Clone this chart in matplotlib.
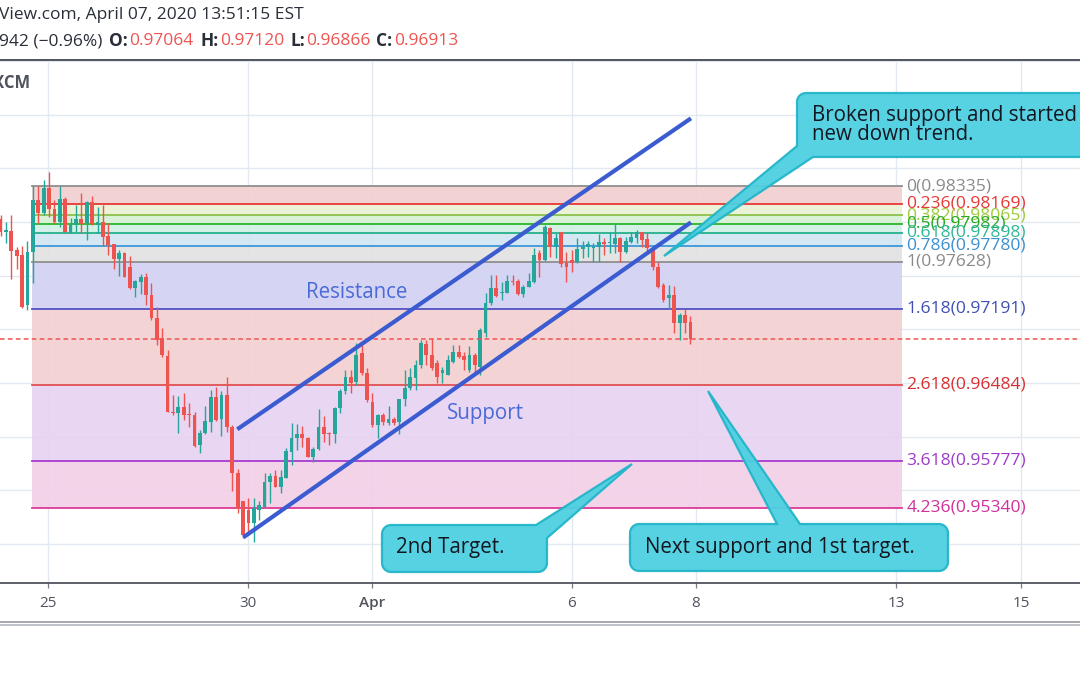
import numpy as np
import matplotlib
matplotlib.use("Agg")
import matplotlib.pyplot as plt
from matplotlib.patches import Polygon

plt.rcParams['font.family'] = ['Open Sans', 'DejaVu Sans']

# ---------------- data ----------------
opens = [.98028,.97907,.97916,.97739,.97693,.97227,.97721,.98205,.98084,.98317,
.98121,.98000,.98214,.97898,.97972,.98028,.97991,.98186,.97972,.98000,
.97870,.97795,.97655,.97711,.97581,.97385,.97441,.97488,.97320,.97106,
.96919,.96752,.96230,.96221,.96276,.96211,.96202,.95922,.96034,.96137,
.96370,.96165,.96388,.96090,.95661,.95401,.95317,.95196,.95317,.95345,
.95578,.95634,.95531,.95615,.95857,.95988,.96025,.95988,.95811,.95885,
.96090,.96034,.96025,.96267,.96425,.96556,.96509,.96780,.96593,.96323,
.96109,.96202,.96127,.96165,.96137,.96351,.96453,.96547,.96668,.96863,
.96761,.96686,.96593,.96575,.96696,.96789,.96752,.96621,.96761,.96649,
.96966,.97245,.97385,.97339,.97339,.97450,.97450,.97329,.97394,.97441,
.97711,.97646,.97944,.97767,.97907,.97618,.97646,.97627,.97748,.97767,
.97758,.97767,.97814,.97804,.97795,.97851,.97721,.97814,.97851,.97907,
.97842,.97758,.97581,.97413,.97292,.97320,.97059,.97134,.97064]
highs = [.98065,.98000,.98065,.97767,.97776,.97823,.98335,.98335,.98391,.98466,
.98205,.98335,.98233,.98037,.98158,.98270,.98196,.98242,.98140,.98158,
.97991,.97795,.97739,.97721,.97683,.97460,.97516,.97525,.97432,.97208,
.97012,.96807,.96388,.96379,.96407,.96314,.96230,.96062,.96286,.96435,
.96463,.96425,.96556,.96109,.95699,.95401,.95429,.95429,.95401,.95661,
.95661,.95689,.95689,.95894,.96127,.96118,.96099,.95997,.95904,.96258,
.96193,.96043,.96276,.96444,.96621,.96621,.96873,.96854,.96640,.96407,
.96211,.96221,.96286,.96183,.96351,.96621,.96640,.96714,.96901,.96901,
.96919,.96714,.96649,.96761,.96854,.96854,.96789,.96845,.96780,.97012,
.97339,.97506,.97506,.97441,.97506,.97506,.97469,.97413,.97525,.97758,
.97739,.97972,.97953,.97898,.97907,.97721,.97739,.97851,.97823,.97823,
.97804,.97888,.97851,.97907,.97991,.97860,.97860,.97907,.97926,.97907,
.97898,.97767,.97627,.97432,.97413,.97404,.97152,.97189,.97120]
lows = [.97870,.97804,.97469,.97562,.97199,.97180,.97432,.97991,.98065,.98047,
.97991,.97953,.97907,.97898,.97907,.97898,.97832,.97972,.97898,.97776,
.97693,.97562,.97497,.97488,.97376,.97301,.97329,.97227,.97087,.96854,
.96742,.96230,.96202,.96034,.96155,.96090,.95904,.95848,.96025,.96043,
.96146,.96006,.96043,.95494,.95289,.95056,.95084,.95019,.95224,.95345,
.95382,.95531,.95475,.95615,.95736,.95876,.95904,.95811,.95764,.95876,
.95950,.95922,.95941,.96221,.96397,.96407,.96481,.96575,.96323,.96090,
.95988,.96109,.96109,.96109,.96025,.96286,.96435,.96435,.96640,.96668,
.96621,.96500,.96500,.96575,.96686,.96733,.96621,.96602,.96593,.96575,
.96929,.97227,.97301,.97273,.97339,.97413,.97320,.97301,.97394,.97432,
.97488,.97637,.97674,.97665,.97581,.97441,.97534,.97618,.97665,.97674,
.97627,.97627,.97693,.97711,.97711,.97627,.97711,.97804,.97804,.97767,
.97721,.97553,.97385,.97255,.97189,.96966,.96901,.96966,.96866]
closes = [.97907,.97926,.97730,.97683,.97208,.97721,.98205,.98084,.98317,.98121,
.98000,.98214,.97907,.97972,.98028,.97981,.98186,.97981,.98000,.97860,
.97786,.97655,.97711,.97488,.97385,.97450,.97488,.97320,.97106,.96901,
.96761,.96230,.96221,.96276,.96202,.96202,.95913,.96034,.96146,.96370,
.96155,.96388,.96090,.95661,.95326,.95084,.95196,.95335,.95363,.95578,
.95634,.95531,.95624,.95866,.95988,.96025,.95988,.95811,.95885,.96090,
.96025,.96025,.96267,.96425,.96556,.96500,.96761,.96593,.96342,.96109,
.96202,.96137,.96165,.96127,.96351,.96453,.96556,.96668,.96873,.96761,
.96640,.96556,.96621,.96714,.96789,.96742,.96714,.96761,.96668,.96994,
.97245,.97385,.97311,.97348,.97450,.97441,.97329,.97394,.97450,.97693,
.97646,.97953,.97767,.97851,.97609,.97581,.97618,.97748,.97767,.97795,
.97767,.97814,.97795,.97814,.97851,.97721,.97823,.97860,.97907,.97832,
.97758,.97581,.97394,.97273,.97320,.97059,.97134,.97059,.96913]

tick_labels = ["25", "30", "Apr", "6", "8", "13", "15"]
tick_bars = [8.72, 45.92, 68.92, 105.95, 129.04, 166.14, 189.33]

fib_ratios = ["0", "0.236", "0.382", "0.5", "0.618", "0.786", "1", "1.618", "2.618", "3.618", "4.236"]
fib_prices = [0.98335, 0.98169, 0.98065, 0.97982, 0.97898, 0.97780, 0.97628, 0.97191, 0.96484, 0.95777, 0.95340]

# channel anchors (bar index, price)
upper_channel = ([43.93, 128.1], [0.96069, 0.98966])
lower_channel = ([45.05, 128.1], [0.95062, 0.97997])

# fib tool anchors in bar index
fib_x0, fib_x1 = 5.79, 167.2

header1 = "View.com, April 07, 2020 13:51:15 EST"
ohlc_header = [("O:", "0.97064"), ("H:", "0.97120"), ("L:", "0.96866"), ("C:", "0.96913")]

# ---------------- styling ----------------
W, H = 1080, 675
fig = plt.figure(figsize=(W / 100, H / 100), dpi=100)
fig.patch.set_facecolor("white")

top_px, bot_px = 61, 583
ax = fig.add_axes([0, (H - bot_px) / H, 1, (bot_px - top_px) / H])
ax.set_facecolor("white")
ax.set_xlim(-0.093, 200.28)
ax.set_ylim(0.94637, 0.99500)
for s in ax.spines.values():
    s.set_visible(False)

ax.set_yticks(np.arange(0.950, 0.9951, 0.005))
ax.set_xticks(tick_bars)
ax.set_xticklabels(tick_labels)
ax.tick_params(axis="y", left=False, labelleft=False)
ax.tick_params(axis="x", length=3.5, width=0.9, color="#787b86", pad=6,
               labelsize=11, labelcolor="#50535e")
for lbl in ax.get_xticklabels():
    if lbl.get_text() == "Apr":
        lbl.set_fontweight("semibold")
ax.grid(True, color="#e3e9f1", lw=1.0, zorder=0)
ax.set_axisbelow(True)

fill_colors = ["#f3cfd1", "#eaf2d4", "#d6f2d4", "#d0f0e3", "#d1e6f2", "#e2e2e2",
               "#d2d2f3", "#f3d0d1", "#e7d3f1", "#f2d0e7"]
line_colors = ["#8f8f8f", "#e53935", "#8bc34a", "#2bb52b", "#26b08a", "#3c98d8",
               "#8f8f8f", "#5252c4", "#e05252", "#a63bd0", "#de3a9a"]
text_colors = ["#8a8a8a", "#e53935", "#9ccc3c", "#2aa82a", "#30b896", "#3a8fd0",
               "#8a8a8a", "#3f4fb5", "#d83030", "#9c3cc8", "#d0309a"]

for k in range(len(fib_prices) - 1):
    ax.fill_between([fib_x0, fib_x1], fib_prices[k + 1], fib_prices[k],
                    color=fill_colors[k], alpha=0.93, lw=0, zorder=1)
for k, p in enumerate(fib_prices):
    ax.plot([fib_x0, fib_x1], [p, p], color=line_colors[k], lw=1.3, zorder=2)
    ax.text(fib_x1 + 0.9, p, f"{fib_ratios[k]}({p:.5f})", color=text_colors[k],
            fontsize=12.6, va="center", ha="left", zorder=6)

# candles
up_c, dn_c = "#26a69a", "#ef5350"
x = np.arange(len(opens))
cols = [up_c if c >= o else dn_c for o, c in zip(opens, closes)]
ax.vlines(x, lows, highs, colors=cols, lw=1.0, zorder=3)
bottoms = [min(o, c) for o, c in zip(opens, closes)]
heights = [max(abs(c - o), 0.00003) for o, c in zip(opens, closes)]
ax.bar(x, heights, bottom=bottoms, width=0.7, color=cols, lw=0, zorder=3)

# current price dashed line
ax.axhline(closes[-1], color="#ef5350", lw=1.1, ls=(0, (3, 2.2)), zorder=3.5)

# channel
ch_col = "#3b5cd0"
ax.plot(*upper_channel, color=ch_col, lw=3.0, solid_capstyle="butt", zorder=4)
ax.plot(*lower_channel, color=ch_col, lw=3.0, solid_capstyle="butt", zorder=4)

# ---------------- overlay (pixel coordinates) ----------------
ov = fig.add_axes([0, 0, 1, 1], facecolor="none")
ov.set_xlim(0, W)
ov.set_ylim(H, 0)
ov.axis("off")

# header
hfs = 12.5
ov.text(-1, 15, header1, fontsize=hfs, color="#2a2e39", va="center", ha="left")
ov.text(-1, 41, "942 (\u22120.96%)", fontsize=hfs, color="#2a2e39", va="center", ha="left")
hx = [109, 200, 291, 376]
vx = [129, 220, 306, 394]
for (lab, val), a, b in zip(ohlc_header, hx, vx):
    ov.text(a, 41, lab, fontsize=hfs, color="#2a2e39", fontweight="bold", va="center", ha="left")
    ov.text(b, 41, val, fontsize=hfs, color="#ef5350", va="center", ha="left")
ov.plot([0, W], [60, 60], color="#50535e", lw=1.4)
ov.text(31, 83, "FXCM", fontsize=12, color="#50535e", fontweight="bold", va="center", ha="right")

# time axis lines
ov.plot([0, W], [bot_px, bot_px], color="#50535e", lw=1.3)
ov.plot([0, W], [622, 622], color="#9598a1", lw=1.2)
ov.plot([0, W], [625, 625], color="#b2b5be", lw=1.2)

# labels
ov.text(306, 292, "Resistance", fontsize=14.8, color="#4a6ad8", va="center", ha="left")
ov.text(447, 413, "Support", fontsize=14.8, color="#4a6ad8", va="center", ha="left")


def arc(cx, cy, r, a0, a1, n=8):
    t = np.radians(np.linspace(a0, a1, n))
    return list(zip(cx + r * np.cos(t), cy + r * np.sin(t)))


def callout(x0, y0, x1, y1, tail, mode, r=9):
    corners = {
        "TL": arc(x0 + r, y0 + r, r, 180, 270),
        "TR": arc(x1 - r, y0 + r, r, 270, 360),
        "BR": arc(x1 - r, y1 - r, r, 0, 90),
        "BL": arc(x0 + r, y1 - r, r, 90, 180),
    }
    pts = []
    for name in ["TL", "TR", "BR", "BL"]:
        if mode == ("replace", name):
            pts += tail
        else:
            pts += corners[name]
        if mode == ("after", name):
            pts += tail
    ov.add_patch(Polygon(pts, closed=True, facecolor="#4dd0e1", edgecolor="#22b5c9",
                         lw=1.6, alpha=0.95, zorder=10))


cfs = 14.8
callout(797, 93, 1100, 157, [(813, 157), (664, 256), (797, 146)], ("replace", "BL"))
ov.text(812, 115, "Broken support and started", fontsize=cfs, color="#131722", va="center", zorder=11)
ov.text(812, 134, "new down trend.", fontsize=cfs, color="#131722", va="center", zorder=11)

callout(382, 525, 547, 572, [(536, 525), (632, 464), (547, 538)], ("replace", "TR"))
ov.text(396, 548, "2nd Target.", fontsize=cfs, color="#131722", va="center", zorder=11)

callout(630, 524, 948, 571, [(777, 524), (708, 391), (800, 524)], ("after", "TL"))
ov.text(645, 547, "Next support and 1st target.", fontsize=cfs, color="#131722", va="center", zorder=11)

fig.savefig("out.png", dpi=100, facecolor="white")
